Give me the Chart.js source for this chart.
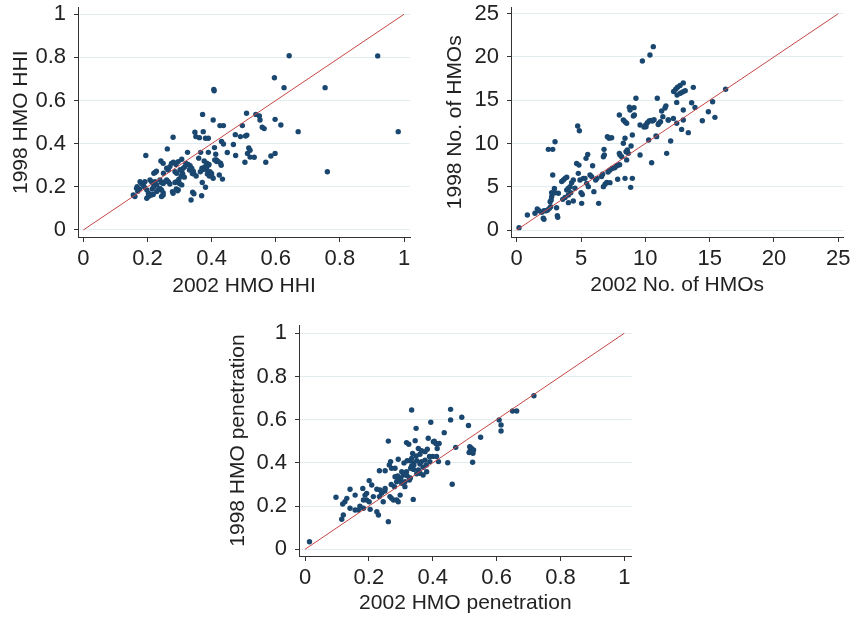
<!DOCTYPE html>
<html><head><meta charset="utf-8">
<script src="https://cdn.jsdelivr.net/npm/chart.js@4.4.0/dist/chart.umd.min.js"></script>
<style>
html,body{margin:0;padding:0;background:#fff;}
#wrap{position:relative;width:856px;height:618px;overflow:hidden;background:#fff;}
.p{position:absolute;}
</style></head><body>
<div id="wrap">
<div class="p" style="left:0px;top:-20px;width:420px;height:320px"><canvas id="c1"></canvas></div>
<div class="p" style="left:433px;top:-20px;width:423px;height:320px"><canvas id="c2"></canvas></div>
<div class="p" style="left:221px;top:300px;width:430px;height:318px"><canvas id="c3"></canvas></div>
</div>
<script>
// ---------- Panel 1: HMO HHI ----------
const hhi2002 = [0.642,0.918,0.982,0.754,0.761,0.67,0.596,0.626,0.407,0.408,0.598,0.616,0.598,0.585,0.569,0.558,0.564,0.538,0.549,0.551,0.509,0.496,0.49,0.506,0.51,0.474,0.475,0.468,0.516,0.52,0.512,0.52,0.533,0.504,0.449,0.426,0.437,0.431,0.437,0.405,0.409,0.413,0.415,0.42,0.428,0.43,0.434,0.424,0.4,0.405,0.39,0.381,0.39,0.372,0.374,0.348,0.351,0.362,0.366,0.36,0.345,0.34,0.352,0.369,0.381,0.371,0.341,0.345,0.336,0.325,0.374,0.378,0.39,0.385,0.395,0.4,0.28,0.262,0.195,
0.242,0.249,0.275,0.281,0.289,0.296,0.307,0.32,0.327,0.333,0.377,0.385,0.392,0.41,0.416,
0.26,0.265,0.27,0.286,0.291,0.302,0.307,0.312,0.317,0.331,0.338,0.343,0.365,0.37,0.38,0.387,0.393,0.22,0.224,0.228,0.25,
0.177,0.182,0.187,0.192,0.208,0.213,0.218,0.224,0.229,0.239,0.244,0.249,0.255,0.26,0.265,0.27,0.286,0.291,0.3,0.307,
0.156,0.161,0.166,0.168,0.198,0.203,0.208,0.198,0.203,0.213,0.218,0.229,0.234,0.239,0.244,0.249,0.244,0.249,0.28,0.278,0.296,0.294,
0.305,0.31,0.315,0.298,0.29,0.17,0.175,0.215,0.22,0.19];
const hhi1998 = [0.808,0.807,0.456,0.66,0.27,0.456,0.706,0.66,0.652,0.645,0.513,0.487,0.355,0.343,0.314,0.476,0.47,0.536,0.529,0.51,0.541,0.484,0.433,0.436,0.44,0.442,0.345,0.396,0.38,0.37,0.355,0.338,0.337,0.314,0.359,0.484,0.484,0.41,0.399,0.51,0.382,0.351,0.325,0.318,0.31,0.3,0.236,0.255,0.252,0.24,0.36,0.425,0.425,0.536,0.456,0.453,0.433,0.428,0.36,0.333,0.26,0.262,0.25,0.159,0.198,0.22,0.175,0.168,0.139,0.36,0.28,0.29,0.3,0.28,0.27,0.262,0.43,0.376,0.345,
0.32,0.309,0.309,0.314,0.304,0.317,0.328,0.309,0.304,0.298,0.32,0.31,0.304,0.325,0.317,
0.286,0.278,0.294,0.27,0.263,0.28,0.272,0.287,0.294,0.278,0.286,0.272,0.27,0.286,0.293,0.26,0.25,0.263,0.267,0.272,0.263,
0.224,0.216,0.209,0.224,0.232,0.224,0.216,0.224,0.209,0.232,0.22,0.216,0.224,0.232,0.224,0.213,0.22,0.224,0.216,0.209,
0.162,0.155,0.193,0.201,0.186,0.17,0.162,0.147,0.155,0.162,0.165,0.178,0.186,0.193,0.186,0.173,0.155,0.162,0.17,0.178,0.186,0.182,
0.25,0.26,0.245,0.235,0.19,0.18,0.19,0.19,0.2,0.2];

// ---------- Panel 2: number of HMOs ----------
const hmos2002 = [0.18,0.83,1.42,1.6,1.74,1.94,2.12,2.28,2.07,2.12,2.41,2.54,2.64,2.46,2.8,2.98,2.8,
2.6,2.68,2.72,2.8,2.72,2.93,2.98,3.24,3.1,3.16,3.19,
3.5,3.63,3.76,3.89,3.58,3.76,4.02,4.2,3.89,4.02,4.15,4.02,4.4,
4.27,4.4,4.53,4.66,4.84,4.74,4.87,4.79,4.92,5.0,5.1,5.05,5.18,5.31,5.39,5.52,5.44,5.57,5.7,5.83,5.9,6.0,6.14,6.24,6.37,6.6,6.68,6.74,6.81,6.79,6.74,6.87,7.0,7.05,7.18,7.38,
7.1,7.23,7.41,7.62,7.75,7.88,8.0,7.25,7.85,8.03,7.98,8.16,7.98,8.29,8.42,8.55,8.29,8.42,8.42,8.5,8.6,8.68,8.55,8.81,9.12,8.89,8.99,8.86,8.99,9.15,9.27,9.59,9.59,9.77,10.36,10.62,
9.9,10.03,10.16,10.3,10.42,10.55,10.68,10.26,10.49,10.83,10.93,11.06,11.18,11.27,11.36,11.53,11.6,11.66,11.79,11.97,12.18,12.2,12.36,12.5,12.7,12.95,12.47,12.72,12.9,13.1,12.44,12.44,12.82,12.95,12.95,13.34,13.6,13.73,13.86,14.43,14.9,15.23,15.41,16.24,
11.0,10.05,11.78,9.07,8.76,10.88];
const hmos1998 = [0.27,1.73,1.93,2.43,2.23,2.04,2.23,2.23,1.35,1.23,2.31,2.5,2.7,9.32,9.32,10.2,6.36,
3.27,3.46,3.85,4.24,4.3,4.8,4.3,4.24,2.58,1.66,1.46,
5.6,5.78,5.97,6.09,3.54,3.77,4.04,4.3,4.62,4.82,5.01,3.16,3.35,
5.47,5.78,4.82,7.7,7.5,12.02,11.48,6.55,5.78,4.3,4.1,3.08,5.97,5.97,8.28,8.74,5.39,5.01,6.36,6.17,7.43,4.43,5.78,5.97,3.08,6.17,6.44,8.47,8.67,9.32,5.01,5.28,5.5,10.79,10.6,10.67,
6.7,6.9,7.1,7.2,7.4,7.5,7.55,5.47,5.86,8.67,8.86,8.47,13.29,12.71,12.52,12.33,10.02,10.6,5.97,9.05,9.24,8.86,8.1,13.87,14.14,9.71,10.98,4.93,5.97,13.29,15.22,8.67,12.13,19.53,20.22,21.19,
11.9,12.13,12.4,12.6,12.67,12.6,12.75,10.4,7.78,10.86,15.22,12.33,12.52,13.75,13.1,14.1,14.35,8.86,12.71,10.28,12.9,16.0,16.26,16.5,16.7,17.0,15.6,15.8,15.95,16.1,14.75,12.33,11.63,12.71,13.87,11.25,14.71,16.49,14.17,12.63,13.67,14.83,13.02,16.26,
12.2,11.94,12.71,13.18,14.18,10.79];

// ---------- Panel 3: HMO penetration ----------
const pen2002 = [0.334,0.348,0.394,0.261,0.318,0.325,0.345,0.386,0.402,0.41,0.414,0.355,0.365,0.376,0.383,0.337,0.348,0.334,0.329,0.35,0.365,0.376,0.391,0.268,0.264,0.271,0.282,0.292,0.233,0.251,0.303,0.308,0.318,0.331,0.334,0.341,0.355,0.36,0.37,0.381,0.282,0.292,0.298,0.287,0.303,0.313,0.327,0.313,0.201,0.209,0.225,0.235,0.251,0.266,0.271,0.277,0.287,0.298,0.233,0.214,0.193,0.181,0.188,0.183,0.193,0.201,0.204,0.225,0.23,0.261,0.339,0.292,0.245,0.141,0.157,0.131,0.125,0.118,0.097,0.12,0.115,0.141,0.157,0.172,0.167,0.183,
0.34,0.36,0.37,0.35,0.32,0.33,0.38,0.39,0.4,0.31,0.32,0.3,0.34,0.36,0.28,0.27,0.25,0.24,0.29,
0.014,0.418,0.436,0.447,0.456,0.456,0.461,0.472,0.491,0.512,0.516,0.518,0.521,0.524,0.526,0.514,0.528,0.525,0.55,0.608,0.614,0.614,0.65,0.663,0.717,0.412,0.42,0.405];
const pen1998 = [0.645,0.56,0.588,0.501,0.494,0.486,0.503,0.514,0.498,0.49,0.467,0.467,0.456,0.452,0.463,0.444,0.432,0.421,0.41,0.41,0.406,0.413,0.406,0.406,0.39,0.375,0.375,0.417,0.364,0.364,0.359,0.344,0.359,0.375,0.386,0.39,0.367,0.352,0.344,0.359,0.336,0.329,0.321,0.313,0.306,0.313,0.321,0.29,0.318,0.298,0.278,0.275,0.282,0.244,0.236,0.228,0.228,0.251,0.244,0.244,0.259,0.282,0.251,0.228,0.228,0.22,0.185,0.174,0.159,0.128,0.231,0.22,0.22,0.278,0.251,0.236,0.22,0.21,0.241,0.159,0.139,0.19,0.182,0.2,0.182,0.19,
0.4,0.395,0.38,0.35,0.34,0.33,0.39,0.43,0.43,0.4,0.41,0.33,0.37,0.44,0.29,0.3,0.27,0.26,0.34,
0.035,0.406,0.54,0.401,0.648,0.599,0.301,0.472,0.611,0.573,0.475,0.46,0.468,0.452,0.445,0.448,0.46,0.403,0.519,0.599,0.576,0.548,0.64,0.64,0.711,0.43,0.49,0.5];

// ---------- Ticks, labels, 45-degree reference lines ----------
const ticksUnit = [0, 0.2, 0.4, 0.6, 0.8, 1];
const tickLabelsUnit = ['0', '0.2', '0.4', '0.6', '0.8', '1'];
const ticksCount = [0, 5, 10, 15, 20, 25];
const tickLabelsCount = ['0', '5', '10', '15', '20', '25'];
const diagUnit = [0, 1];
const diagCount = [0, 25];

const FAMILY = "'Liberation Sans', Arial, Helvetica, sans-serif";
const TITLE_FONT = {family: FAMILY, size: 21};
const TICK_FONT = {family: FAMILY, size: 22};
const DOT = '#1a476f';
const RED = 'rgb(198,70,70)';
const AXIS = '#333333';
const GRID = '#e2edf0';

function pts(xs, ys) { return xs.map((x, i) => ({x: x, y: ys[i]})); }

function make(id, xs, ys, diag, ticks, labels, o) {
  new Chart(document.getElementById(id), {
    type: 'scatter',
    data: {datasets: [
      {type: 'line', data: pts(diag, diag), borderColor: RED, borderWidth: 1, pointRadius: 0, fill: false, order: 0},
      {data: pts(xs, ys), backgroundColor: DOT, borderColor: DOT, borderWidth: 0, pointRadius: 2.7, order: 1}
    ]},
    options: {
      responsive: true, maintainAspectRatio: false, animation: false,
      layout: {padding: {left: 0, top: o.pt, right: o.pr, bottom: 0}},
      plugins: {legend: {display: false}, tooltip: {enabled: false}},
      scales: {
        x: {
          type: 'linear', min: o.xmin, max: o.xmax,
          afterBuildTicks: s => { s.ticks = ticks.map(v => ({value: v})); },
          afterFit: s => { s.height = o.hx; },
          ticks: {callback: (v, i) => labels[i], font: TICK_FONT, color: '#222', padding: 3.5, maxRotation: 0, autoSkip: false},
          grid: {drawOnChartArea: false, drawTicks: true, tickLength: 5, tickColor: AXIS, tickWidth: 1},
          border: {display: true, color: AXIS, width: 1},
          title: {display: true, text: o.xt, font: TITLE_FONT, color: '#222', padding: {top: 0, bottom: o.xtp}}
        },
        y: {
          type: 'linear', min: o.ymin, max: o.ymax,
          afterBuildTicks: s => { s.ticks = ticks.map(v => ({value: v})); },
          afterFit: s => { s.width = 78; },
          ticks: {callback: (v, i) => labels[i], font: TICK_FONT, color: '#222', padding: 8, autoSkip: false},
          grid: {drawOnChartArea: true, color: GRID, lineWidth: 1, drawTicks: true, tickLength: 4, tickColor: AXIS, tickWidth: 1},
          border: {display: true, color: AXIS, width: 1},
          title: {display: true, text: o.yt, font: TITLE_FONT, color: '#222', padding: {top: o.ytp, bottom: 0}}
        }
      }
    }
  });
}

make('c1', hhi2002, hhi1998, diagUnit, ticksUnit, tickLabelsUnit, {
  pt: 27.5, pr: 10, hx: 63,
  xmin: -0.0165, xmax: 1.0187, ymin: -0.0325, ymax: 1.0315,
  xt: '2002 HMO HHI', yt: '1998 HMO HHI', xtp: 1, ytp: 9
});
make('c2', hmos2002, hmos1998, diagCount, ticksCount, tickLabelsCount, {
  pt: 27.5, pr: 12.7, hx: 63,
  xmin: -0.443, xmax: 25.39, ymin: -0.809, ymax: 25.717,
  xt: '2002 No. of HMOs', yt: '1998 No. of HMOs', xtp: 2, ytp: 10
});
make('c3', pen2002, pen1998, diagUnit, ticksUnit, tickLabelsUnit, {
  pt: 25, pr: 19.3, hx: 62,
  xmin: -0.0188, xmax: 1.0232, ymin: -0.031, ymax: 1.0384,
  xt: '2002 HMO penetration', yt: '1998 HMO penetration', xtp: 2.4, ytp: 4.7
});
</script>
</body></html>
